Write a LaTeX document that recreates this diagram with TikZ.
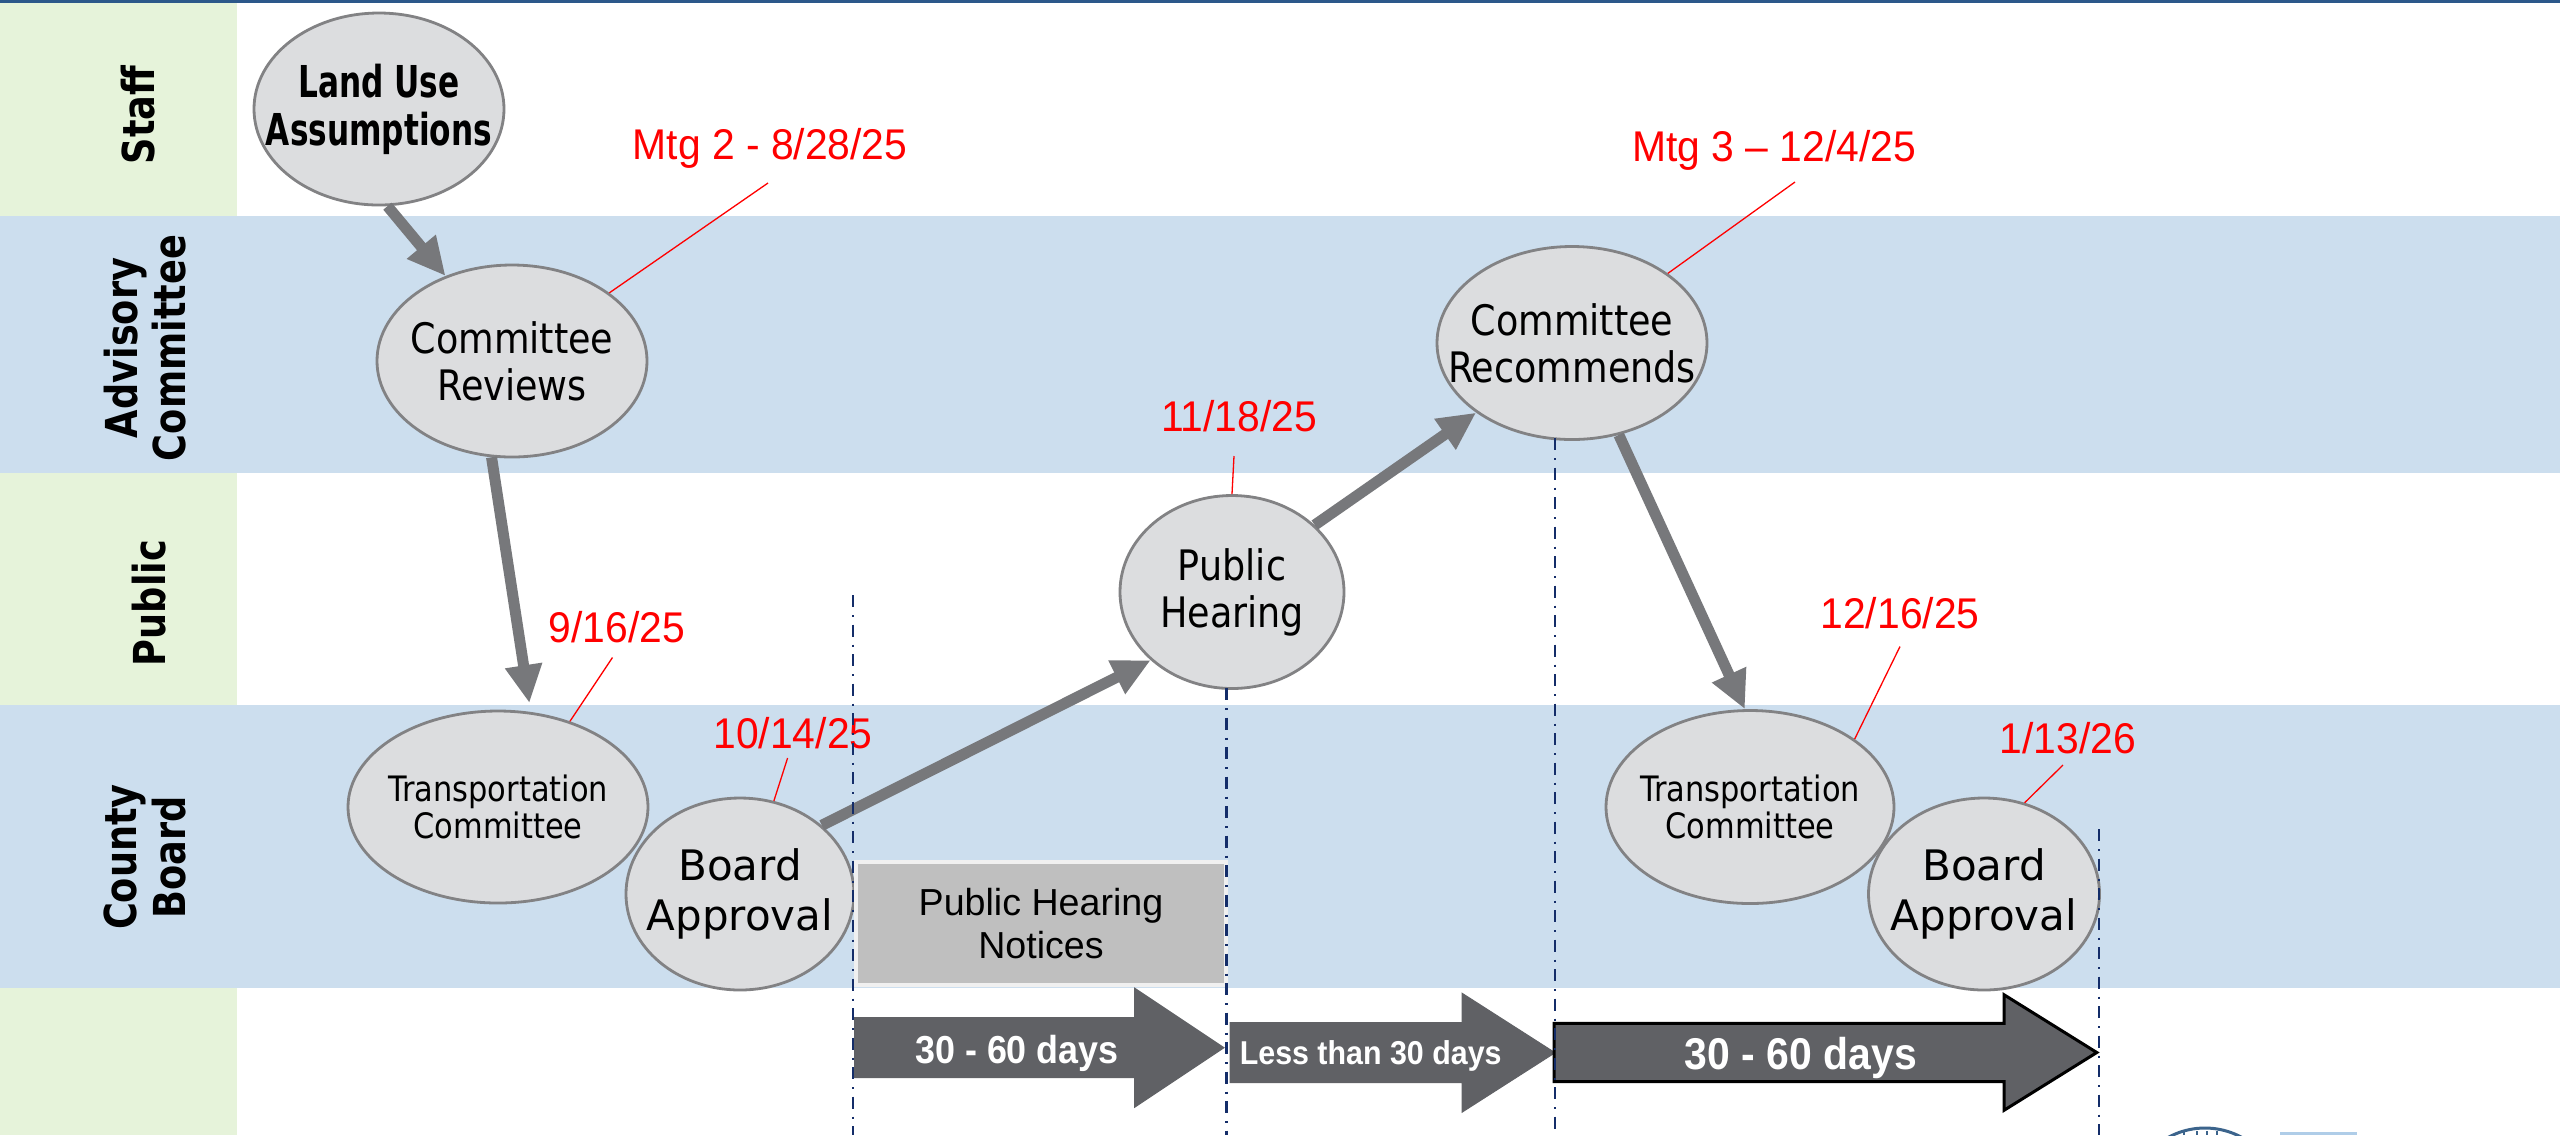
\documentclass[tikz,border=0pt]{standalone}
\usepackage{fontspec}
\setmainfont{DejaVu Sans}
\newfontfamily\stagefont[FakeStretch=0.87]{DejaVu Sans}
\newfontfamily\landfont[FakeStretch=0.71]{DejaVu Sans}
\newfontfamily\datefont[FakeStretch=0.95]{Liberation Sans}
\newfontfamily\noticefont{Liberation Sans}
\newfontfamily\dayfont[FakeStretch=0.92]{Liberation Sans}
\usetikzlibrary{arrows.meta,shapes.geometric}

\definecolor{lanegreen}{RGB}{230,243,218}
\definecolor{laneblue}{RGB}{204,222,238}
\definecolor{topline}{RGB}{44,88,138}
\definecolor{stagefill}{RGB}{220,221,223}
\definecolor{stageline}{RGB}{130,130,132}
\definecolor{flowgray}{RGB}{119,120,123}
\definecolor{daygray}{RGB}{96,97,101}
\definecolor{noticegray}{RGB}{191,191,191}
\definecolor{noticeedge}{RGB}{240,240,240}
\definecolor{milestoneblue}{RGB}{20,45,105}
\definecolor{logoblue}{RGB}{60,100,140}
\definecolor{logolight}{RGB}{175,205,232}

\begin{document}
\begin{tikzpicture}[x=0.1mm, y=-0.1mm]
\tikzstyle{stage}=[ellipse, draw=stageline, fill=stagefill, line width=0.28mm, inner sep=0pt, minimum height=19.2mm]
\tikzstyle{stage text}=[align=center, inner sep=0pt, font=\stagefont\fontsize{11.95pt}{13.4pt}\selectfont]
\tikzstyle{small stage text}=[stage text, font=\stagefont\fontsize{9.96pt}{10.5pt}\selectfont]
\tikzstyle{board text}=[stage text, font=\rmfamily\fontsize{11.95pt}{14.2pt}\selectfont]
\tikzstyle{land text}=[stage text, font=\landfont\bfseries\fontsize{12.5pt}{13.66pt}\selectfont]
\tikzstyle{lane text}=[rotate=90, yscale=1.2, align=center, inner sep=0pt, font=\bfseries\fontsize{10.44pt}{11.4pt}\selectfont]
\tikzstyle{datelbl}=[text=red, anchor=base, inner sep=0pt, font=\datefont\fontsize{12.23pt}{14pt}\selectfont]
\tikzstyle{leader}=[red, line width=0.13mm]
\tikzstyle{flow}=[draw=flowgray, line width=1.1mm, -{Triangle[length=3.8mm, width=3.5mm]}]
\tikzstyle{milestone}=[draw=milestoneblue, line width=0.25mm, dash pattern=on 1.2mm off 0.8mm on 0.2mm off 0.75mm]
\tikzstyle{notice}=[rectangle, fill=noticegray, draw=noticeedge, line width=0.4mm, minimum width=37mm, minimum height=12.27mm, align=center, font=\noticefont\fontsize{10.7pt}{12.2pt}\selectfont]
\tikzstyle{day text}=[text=white, anchor=base, inner sep=0pt, font=\dayfont\bfseries\fontsize{11.1pt}{13pt}\selectfont]

\useasboundingbox (0,0) rectangle (2560,1135);
\clip (0,0) rectangle (2560,1135);

% Draw the swim lanes
\fill[white] (0,0) rectangle (2560,1135);
\fill[lanegreen] (0,2) rectangle (237,1135);
\foreach \ya/\yb in {216/473, 705/988}
    \fill[laneblue] (0,\ya) rectangle (2560,\yb);
\fill[topline] (0,0) rectangle (2560,2.5);

\node[lane text] (staff) at (138,115) {Staff};
\node[lane text] (advisory) at (145,348) {Advisory\\Committee};
\node[lane text] (public) at (149,603) {Public};
\node[lane text] (county) at (145,857) {County\\Board};

% Draw the process steps
\node[stage, minimum width=25mm, label={[land text]center:Land Use\\Assumptions}] (landuse) at (379,109) {};
\node[stage, minimum width=27mm, label={[stage text]center:Committee\\Reviews}] (reviews) at (512,361) {};
\node[stage, minimum width=30mm, label={[small stage text]center:Transportation\\Committee}] (transp1) at (498,807) {};
\node[stage, minimum width=22.8mm, label={[board text]center:Board\\Approval}] (board1) at (740,894) {};
\node[stage, minimum width=22.4mm, minimum height=19.3mm, label={[stage text]center:Public\\Hearing}] (hearing) at (1232,592) {};
\node[stage, minimum width=27mm, minimum height=19.3mm, label={[stage text]center:Committee\\Recommends}] (recommends) at (1572,343) {};
\node[stage, minimum width=28.8mm, minimum height=19.3mm, label={[small stage text]center:Transportation\\Committee}] (transp2) at (1750,807) {};
\node[stage, minimum width=23.1mm, label={[board text]center:Board\\Approval}] (board2) at (1984,894) {};

\node[notice] (notices) at (1041,923.4) {Public Hearing\\Notices};

% Meeting dates
\node[datelbl] (mtg2) at (770,159) {Mtg 2 - 8/28/25};
\node[datelbl] (mtg3) at (1774,161) {Mtg 3 – 12/4/25};
\node[datelbl] (hear1118) at (1239,431) {11/18/25};
\node[datelbl] (trans0916) at (617,642) {9/16/25};
\node[datelbl] (board1014) at (793,748) {10/14/25};
\node[datelbl] (trans1216) at (1900,628) {12/16/25};
\node[datelbl] (board0113) at (2068,753.5) {1/13/26};

\coordinate (mtg2 end) at (768,183);
\coordinate (mtg3 end) at (1795,182);
\coordinate (hear1118 end) at (1234,456);
\coordinate (trans0916 end) at (612.5,657.5);
\coordinate (board1014 end) at (787.6,758);
\coordinate (trans1216 end) at (1900,646.5);
\coordinate (board0113 end) at (2063,765);
\draw[leader] (mtg2 end) -- (reviews.35);
\draw[leader] (mtg3 end) -- (recommends.36);
\draw[leader] (hear1118 end) -- (hearing.90);
\draw[leader] (trans0916 end) -- (transp1.50);
\draw[leader] (board1014 end) -- (board1.70.7);
\draw[leader] (trans1216 end) -- (transp2.33.4);
\draw[leader] (board0113 end) -- (board2.66.9);

% Process flow
\draw[flow] (landuse.-85) -- (reviews.128.3);
\draw[flow, shorten >=0.9mm] (reviews.-102.7) -- (transp1.71.6);
\draw[flow] (board1.40.4) -- (hearing.-140);
\draw[flow] (hearing.39.7) -- (recommends.-144.5);
\draw[flow] (recommends.-63.8) -- (transp2.93);

% Duration arrows
\foreach \xa/\xb/\xc/\yc/\bh/\hh/\edge/\lw in {854.5/1134.7/1224/1047.7/30/59.5/daygray/0.1mm, 1230/1462/1555/1052.7/30/59.5/daygray/0.1mm, 1554/2004/2096.8/1052.5/29.2/57.8/black/0.3mm}
    \filldraw[fill=daygray, draw=\edge, line width=\lw] (\xa,{\yc-\bh}) -- (\xb,{\yc-\bh}) -- (\xb,{\yc-\hh}) -- (\xc,\yc) -- (\xb,{\yc+\hh}) -- (\xb,{\yc+\bh}) -- (\xa,{\yc+\bh}) -- cycle;

\node[day text] (days1) at (1017,1063) {30 - 60 days};
\node[day text, font=\dayfont\bfseries\fontsize{9.4pt}{11pt}\selectfont] (days2) at (1370.7,1064) {Less than 30 days};
\node[day text, font=\dayfont\bfseries\fontsize{12.66pt}{14pt}\selectfont] (days3) at (1801,1069) {30 - 60 days};

% Milestone markers
\foreach \i/\x/\y in {1/853/595, 2/1226.5/688, 3/1555/438, 4/2099/829} {
    \coordinate (mstop\i) at (\x,\y);
    \coordinate (msbot\i) at (\x,1135);
    \draw[milestone] (mstop\i) -- (msbot\i);
}

% Logo, cut off at the bottom edge
\draw[logoblue, line width=0.3mm] (2205,1204.6) circle[radius=76.6];
\foreach \x in {2184,2197,2207,2217}
    \draw[logoblue, line width=0.2mm] (\x,1131) -- (\x,1135);
\fill[logolight] (2280,1132) rectangle (2357,1135);

\end{tikzpicture}
\end{document}
